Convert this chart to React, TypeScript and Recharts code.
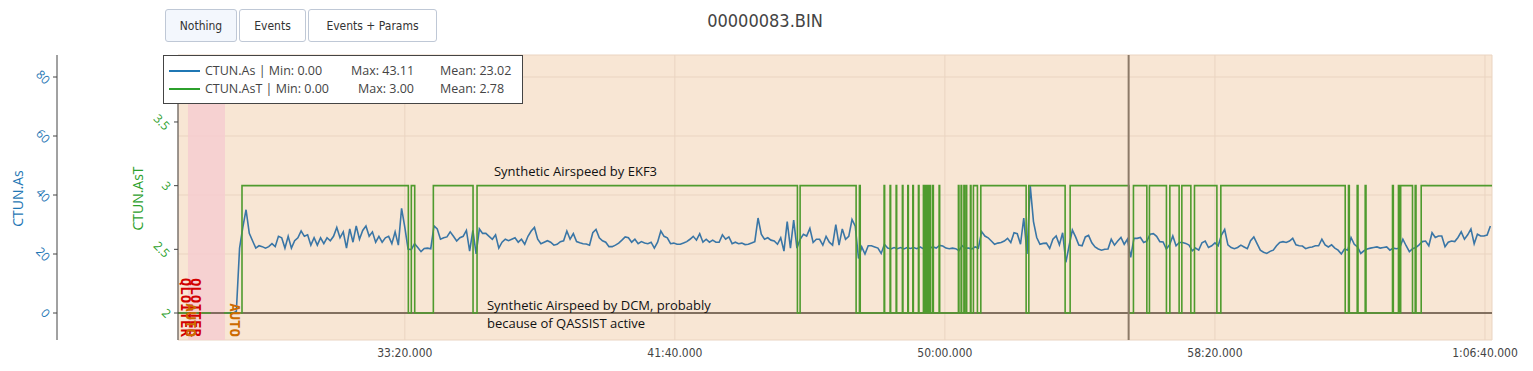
import React from "react";
import {
  CartesianGrid,
  Line,
  LineChart,
  ReferenceArea,
  ReferenceDot,
  ReferenceLine,
  XAxis,
  YAxis,
} from "recharts";

// CTUN.As, one sample every AS_STEP s from AS_START (s since boot)
const AS_START = 1670;
const AS_STEP = 6;
const AS_VALUES = [
  0, 0, 0, 0.5, 22,
  29, 35, 27, 24.5, 22, 22.8, 22.5, 22, 22.5, 23.5,
  22.5, 26, 25.5, 22, 26, 22, 24.5, 25.5, 27.8, 26,
  26.5, 23, 25.5, 23, 25.5, 23.5, 25.5, 24.5, 26, 29,
  25.5, 27.5, 22, 28.5, 24, 29.5, 25, 28, 29.5, 26,
  27.5, 24, 26, 24, 25.5, 26, 23.5, 27.5, 23, 35.5,
  29, 21.7, 21.5, 23.5, 22.2, 20.8, 21.9, 22, 21.8, 29.5,
  28.5, 25, 25.5, 25.8, 27.5, 26, 24.4, 25.5, 26, 28,
  21, 28, 20, 28.5, 27,
  // 2150 s
  27, 26, 25, 26.5, 22, 24, 25, 24.5, 25, 25.5,
  24, 25, 23.3, 26, 27.8, 29, 25, 23.5, 24, 24.5,
  24, 23, 23.3, 24.2, 24.5, 27.8, 25, 26.9, 24.2, 23.8,
  23.5, 23.4, 23, 27.2, 28.3, 25.5, 24.5, 24, 22.5, 22.5,
  23, 23.7, 24.7, 25.8, 25.5, 24, 25, 23.5, 24.2, 23.7,
  23.5, 24, 22, 24, 27.8, 26, 25.5, 23.5, 23.7, 23.3,
  23.3, 23.7, 24.2, 25, 26, 24.7, 26.9, 24, 25, 24,
  24.7, 24, 24, 26.5, 25, 25.8, 23.5, 24, 23.5,
  // 2624 s
  23.7, 23.2, 23.3, 23.7, 24.2, 32.2, 26.7, 25, 25.5, 24.7,
  24.4, 23.3, 25.5, 21, 31, 22, 31.5, 22, 25, 26.7,
  26.1, 28.7, 23.9, 25, 25, 23, 26, 24, 23, 30,
  23, 28.5, 25, 26, 31.7, 29.4, 18.5, 22.4, 20, 22.8,
  22.8, 22.4, 22, 20.2, 23.3, 22, 21.7, 22.2, 21.8, 22.2,
  21.7, 22.2, 21.9, 22.2, 21.8, 22.4, 21.8, 22.2, 22, 22.4,
  22, 22.9, 22.7, 22, 21.8, 22, 21.8, 21.1, 22.8, 22,
  22, 21.7, 22.4, 22, 27.6, 26.1, 25.5, 24.4, 23.3,
  // 3098 s
  23.7, 23.9, 24.4, 25.3, 23.9, 27.2, 26.9, 23.3, 32.2, 20,
  43.1, 31, 25.6, 23.3, 23.6, 23.7, 21.9, 25, 26.1, 23.1,
  27.2, 17.2, 22.8, 28.1, 25.8, 23, 22.8, 25.8, 26.3, 23.8,
  22.4, 21.7, 21.3, 21.6, 21.7, 25, 23, 24.4, 25.6, 23.3,
  25, 18.9, 25.3, 25.3, 25.6, 23.9, 24.4, 26.7, 26.9, 26,
  24.2, 24.1, 21.7, 23.1, 26.1, 22.8, 23.9, 23.9, 23.6, 23,
  21.1, 22, 21.3, 23.8, 24.4, 22.2, 22.8, 23.8, 22.8, 26.4,
  28.3, 23.1, 22.2, 21.8, 22.2, 23, 22.4, 21.8,
  // 3566 s
  24.5, 25.8, 23.5, 21.3, 20.6, 20.2, 20.9, 21.3, 22.8, 23.9,
  24.2, 23.9, 24.4, 25.3, 23.1, 22.8, 22.7, 21.8, 22.2, 22.4,
  22.8, 22.8, 25, 23.1, 22.4, 23.1, 22, 21.3, 20, 21.7,
  21.3, 25.6, 23.3, 22.4, 20.2, 21.1, 21.7, 22, 22.2, 22.4,
  22, 22.2, 22.4, 21.3, 22, 21.8, 22, 25, 22.8, 20.8,
  21.8, 22.2, 23.1, 24.2, 24.4, 22.8, 27.2, 25.6, 26.1, 26.1,
  22.5, 24, 24.4, 24.2, 25.6, 27.5, 25, 26.5, 28.5, 23.5,
  26.7, 26.1, 26.1, 26.4, 29.5,
];

// CTUN.AsT switches (time in s, level)
const AST_TIMES = [
  1580, 1641, 1641.5, 1665, 1698.5, 2006.5, 2012, 2018.3, 2052.8, 2126.3,
  2133.7, 2726.9, 2731.9, 2835.6, 2841.7, 2843.2,
  2887.4, 2888.4, 2898.5, 2899.5, 2909.7, 2910.7, 2921.3, 2922.3, 2931.3, 2932.3,
  2940.6, 2941.6, 2951, 2952, 2960.2, 2961.2, 2963.4, 2964.4, 2966.5, 2967.5,
  2969.5, 2970.5, 2972.6, 2973.6, 2977.6, 2978.6, 2989.3, 2990.3,
  3025, 3026, 3030, 3031, 3035.2, 3036.2, 3039.3, 3040.3, 3047.3, 3048.3,
  3052.8, 3060.2, 3066.5, 3150.4, 3155.4, 3222.6, 3231.9, 3340.6, 3349.1, 3373.9,
  3378.7, 3410.2, 3416.5, 3433.7, 3438.7, 3455.4, 3462.1, 3503.6, 3510.9, 3741.2,
  3747.3, 3748.8, 3763.4, 3764.9, 3778.2, 3779.7, 3828.8, 3830.3, 3839.8, 3841,
  3843.9, 3865.8, 3870.8, 3872.3, 3881.9, 4013,
];
const AST_LEVELS = [
  2, 2, null, 2, 3, 2, 3, 2, 3, 2,
  3, 2, 3, 2, 3, 2,
  3, 2, 3, 2, 3, 2, 3, 2, 3, 2,
  3, 2, 3, 2, 3, 2, 3, 2, 3, 2,
  3, 2, 3, 2, 3, 2, 3, 2,
  3, 2, 3, 2, 3, 2, 3, 2, 3, 2,
  3, 2, 3, 2, 3, 2, 3, 2, 3, 2,
  3, 2, 3, 2, 3, 2, 3, 2, 3, 2,
  3, 2, 3, 2, 3, 2, 3, 2, 3, 2,
  3, 2, 3, 2, 3, 3,
];

const X_TICKS = [2000, 2500, 3000, 3500, 4000];
const X_TICK_LABELS = ["33:20.000", "41:40.000", "50:00.000", "58:20.000", "1:06:40.000"];
const AS_TICKS = [0, 20, 40, 60, 80];
const AST_TICKS = [2, 2.5, 3, 3.5];

const QLOITER_SPAN = [1598.5, 1667];
const CURSOR_T = 3340.2;
const MODE_TIMES = [1594, 1612.5, 1604, 1686];
const MODE_NAMES = ["QLOITER", "QLOITER", "AUTO", "AUTO"];
const MODE_COLORS = ["#d20000", "#d20000", "#cc6a00", "#cc6a00"];

const LEGEND_NAMES = ["CTUN.As", "CTUN.AsT"];
const LEGEND_MIN = ["0.00", "0.00"];
const LEGEND_MAX = ["43.11", "3.00"];
const LEGEND_MEAN = ["23.02", "2.78"];

const BLUE = "#1f77b4";
const GREEN = "#2ca02c";
const FONT = "'Open Sans', 'DejaVu Sans', sans-serif";
const NARROW = "'DejaVu Sans Condensed', 'DejaVu Sans', sans-serif";

// y1 = CTUN.AsT (next to the plot), y2 = CTUN.As (outer axis)
const AST_AXIS = "y1";
const AS_AXIS = "y2";

const asData = AS_VALUES.map((v, i) => ({ t: AS_START + i * AS_STEP, v }));
const astData = AST_TIMES.map((t, i) => ({ t, v: AST_LEVELS[i] }));

function AngledTick(props: any) {
  const { x, y, payload, fill } = props;
  const label = String(payload.value);
  const cx = x - (5 + label.length * 2.4);
  return (
    <text
      x={cx}
      y={y}
      transform={`rotate(45 ${cx} ${y})`}
      textAnchor="middle"
      dominantBaseline="central"
      fill={fill}
      fontSize={12}
      fontFamily={FONT}
    >
      {label}
    </text>
  );
}

function TimeTick(props: any) {
  const { x, y, payload } = props;
  const idx = X_TICKS.indexOf(payload.value);
  return (
    <text
      x={x}
      y={y + 13}
      textAnchor="middle"
      dominantBaseline="central"
      fill="#444"
      fontSize={12}
      fontFamily={NARROW}
      style={{ fontStretch: "condensed" }}
    >
      {X_TICK_LABELS[idx]}
    </text>
  );
}

function axisTitle(text: string, color: string, dx: number) {
  return (p: any) => {
    const vb = p.viewBox;
    const cx = vb.x + dx;
    const cy = vb.y + vb.height / 2 + 1;
    return (
      <text
        x={cx}
        y={cy}
        transform={`rotate(-90 ${cx} ${cy})`}
        textAnchor="middle"
        dominantBaseline="central"
        fill={color}
        fontSize={14}
        fontFamily={FONT}
      >
        {text}
      </text>
    );
  };
}

function ModeLabel(props: any) {
  const { cx, cy, text, color } = props;
  return (
    <text
      x={cx}
      y={cy}
      transform={`rotate(90 ${cx} ${cy})`}
      textAnchor="end"
      dominantBaseline="central"
      fill={color}
      fontSize={14}
      fontWeight="bold"
      fontFamily="'DejaVu Sans Mono', monospace"
    >
      {text}
    </text>
  );
}

function Note(props: any) {
  const { cx, cy, lines } = props;
  return (
    <text x={cx} y={cy} fill="#111" fontSize={13} fontFamily={FONT}>
      {lines.map((l: string, i: number) => (
        <tspan key={i} x={cx} dy={i === 0 ? "0.35em" : 18}>
          {l}
        </tspan>
      ))}
    </text>
  );
}

const btn: React.CSSProperties = {
  position: "absolute",
  top: 1,
  height: 33,
  boxSizing: "border-box",
  border: "1px solid #bfc8d6",
  borderRadius: 3,
  background: "#fff",
  color: "#333",
  fontSize: 12,
  fontFamily: NARROW,
  fontStretch: "condensed",
  display: "flex",
  alignItems: "center",
  justifyContent: "center",
};

export default function App() {
  return (
    <div style={{ position: "relative", width: 1517, height: 355, fontFamily: FONT }}>
      <div style={{ ...btn, left: 157, width: 72, background: "#f3f7fd" }}>Nothing</div>
      <div style={{ ...btn, left: 231, width: 67 }}>Events</div>
      <div style={{ ...btn, left: 300, width: 129 }}>Events + Params</div>
      <div
        style={{
          position: "absolute",
          left: 657,
          width: 200,
          top: 2,
          textAlign: "center",
          fontSize: 18,
          color: "#444",
          fontFamily: NARROW,
          fontStretch: "condensed",
        }}
      >
        00000083.BIN
      </div>

      <LineChart
        width={1517}
        height={355}
        margin={{ top: 47, right: 33, bottom: 3, left: 0 }}
      >
        <CartesianGrid
          yAxisId={AS_AXIS}
          fill="#f8e6d4"
          fillOpacity={1}
          stroke="#ead4c1"
          strokeWidth={1}
        />
        <XAxis
          dataKey="t"
          type="number"
          domain={[1580, 4013]}
          allowDataOverflow
          ticks={X_TICKS}
          axisLine={false}
          tickLine={false}
          tickSize={0}
          tickMargin={0}
          height={20}
          tick={<TimeTick />}
        />
        <YAxis
          yAxisId={AST_AXIS}
          type="number"
          domain={[1.788, 4.026]}
          allowDataOverflow
          ticks={AST_TICKS}
          width={121}
          tickSize={4}
          tickMargin={0}
          axisLine={{ stroke: "#444" }}
          tickLine={{ stroke: "#444" }}
          tick={(p: any) => <AngledTick {...p} fill={GREEN} />}
          label={{ content: axisTitle("CTUN.AsT", GREEN, 80) }}
        />
        <YAxis
          yAxisId={AS_AXIS}
          type="number"
          domain={[-9.15, 87.46]}
          allowDataOverflow
          ticks={AS_TICKS}
          width={49}
          tickSize={4}
          tickMargin={0}
          axisLine={{ stroke: "#444" }}
          tickLine={{ stroke: "#444" }}
          tick={(p: any) => <AngledTick {...p} fill={BLUE} />}
          label={{ content: axisTitle("CTUN.As", BLUE, 9) }}
        />
        <ReferenceArea
          yAxisId={AS_AXIS}
          x1={QLOITER_SPAN[0]}
          x2={QLOITER_SPAN[1]}
          fill="#f6cdd0"
          fillOpacity={0.85}
          stroke="none"
        />
        <ReferenceLine yAxisId={AS_AXIS} y={0} stroke="#5d4b3b" strokeWidth={1.5} />
        <Line
          yAxisId={AS_AXIS}
          data={asData}
          dataKey="v"
          type="linear"
          stroke="#3a76a6"
          strokeWidth={1.6}
          dot={false}
          activeDot={false}
          isAnimationActive={false}
        />
        <Line
          yAxisId={AST_AXIS}
          data={astData}
          dataKey="v"
          type="stepAfter"
          stroke="#4f9b2e"
          strokeWidth={1.6}
          dot={false}
          activeDot={false}
          connectNulls={false}
          isAnimationActive={false}
        />
        <ReferenceLine yAxisId={AS_AXIS} x={CURSOR_T} stroke="#8c7a68" strokeWidth={2} />
        {MODE_TIMES.map((t, i) => (
          <ReferenceDot
            key={i}
            yAxisId={AS_AXIS}
            x={t}
            y={-8.1}
            r={0}
            shape={(p: any) => <ModeLabel {...p} text={MODE_NAMES[i]} color={MODE_COLORS[i]} />}
          />
        ))}
        <ReferenceDot
          yAxisId={AS_AXIS}
          x={2165}
          y={48.1}
          r={0}
          shape={(p: any) => <Note {...p} lines={["Synthetic Airspeed by EKF3"]} />}
        />
        <ReferenceDot
          yAxisId={AS_AXIS}
          x={2152}
          y={2.7}
          r={0}
          shape={(p: any) => (
            <Note {...p} lines={["Synthetic Airspeed by DCM, probably", "because of QASSIST active"]} />
          )}
        />
      </LineChart>

      <div
        style={{
          position: "absolute",
          left: 155,
          top: 47,
          width: 360,
          height: 49,
          boxSizing: "border-box",
          border: "1px solid #444",
          background: "#fff",
          fontSize: 12.5,
          color: "#444",
          zIndex: 2,
        }}
      >
        {LEGEND_NAMES.map((name, i) => {
          const top = i === 0 ? 15 : 33;
          const color = i === 0 ? BLUE : GREEN;
          return (
            <React.Fragment key={name}>
              <div
                style={{
                  position: "absolute",
                  left: 5,
                  top: top - 1,
                  width: 31,
                  height: 2,
                  background: color,
                }}
              />
              <span style={{ position: "absolute", left: 41, top: top - 9, lineHeight: "18px", whiteSpace: "pre" }}>
                {`${name} | Min: ${LEGEND_MIN[i]}`}
              </span>
              <span style={{ position: "absolute", left: i === 0 ? 187 : 194, top: top - 9, lineHeight: "18px" }}>
                {`Max: ${LEGEND_MAX[i]}`}
              </span>
              <span style={{ position: "absolute", left: 276, top: top - 9, lineHeight: "18px" }}>
                {`Mean: ${LEGEND_MEAN[i]}`}
              </span>
            </React.Fragment>
          );
        })}
      </div>
    </div>
  );
}
